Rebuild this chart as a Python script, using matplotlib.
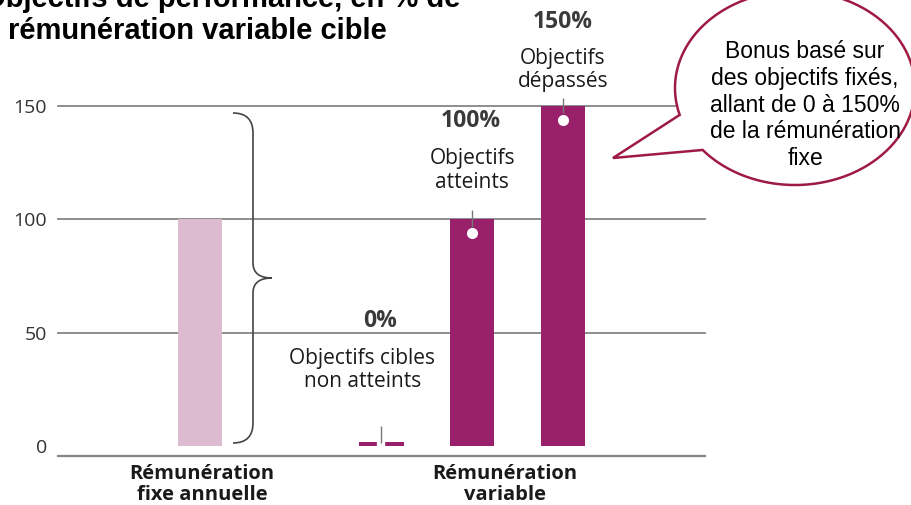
import numpy as np
import matplotlib
matplotlib.use("Agg")
import matplotlib.pyplot as plt
from matplotlib.path import Path
from matplotlib.patches import PathPatch, Polygon

# data
bar_pos = [0, 2, 3, 4]
bar_values = [100, 0, 100, 150]
bar_colors = ["#dcbad0", "#99206a", "#99206a", "#99206a"]
pct_labels = ["0%", "100%", "150%"]
pct_texts = ["Objectifs cibles\nnon atteints", "Objectifs\natteints", "Objectifs\ndépassés"]
yticks = [0, 50, 100, 150]
cat_labels = ["Rémunération\nfixe annuelle", "Rémunération\nvariable"]
cat_pos = [0.02, 3.36]
title_lines = ["Objectifs de performance, en % de", "rémunération variable cible"]
bubble_text = "Bonus basé sur\ndes objectifs fixés,\nallant de 0 à 150%\nde la rémunération\nfixe"

W, H = 911, 505
fig = plt.figure(figsize=(W / 100, H / 100), dpi=100)

# main axes: gridlines from x=58px to 705px, y=150 at 106px, y=-4.4 at 456px
ax = fig.add_axes([58 / W, (H - 456) / H, (705 - 58) / W, (456 - 106) / H])
ax.set_xlim(-1.566, 5.567)
ax.set_ylim(-4.4, 150)
for s in ax.spines.values():
    s.set_visible(False)
ax.set_xticks([])
ax.set_yticks(yticks)
ax.set_yticklabels([str(t) for t in yticks], fontfamily="Open Sans", fontsize=14, color="#333333")
ax.tick_params(axis="y", length=0, pad=8)
for t in yticks[1:]:
    ax.axhline(t, color="#858585", lw=1.3, zorder=1, clip_on=False)
ax.axhline(-4.4, color="#858585", lw=1.6, zorder=1, clip_on=False)

# bars (the 0% bar is shown as a thin stub split in two)
stub = 1.8
heights = [v if v > 0 else stub for v in bar_values]
ax.bar(bar_pos, heights, width=0.49, color=bar_colors, zorder=2)
zero_x = bar_pos[bar_values.index(0)]
ax.vlines(zero_x, 0, stub + 0.2, color="white", lw=6, zorder=3)

# leader lines, white dots and labels for the variable bars
var_pos = bar_pos[1:]
var_vals = bar_values[1:]
pct_y = [55, 143.6, 187]
txt_y = [33.5, 121.6, 165.9]
txt_x = [1.79, 3.0, 4.0]
pct_x = [1.98, 2.98, 4.0]
lead = [(1.3, 9), (96.5, 104), (146.7, 153.7)]
for i, (x, v) in enumerate(zip(var_pos, var_vals)):
    ax.vlines(x, lead[i][0], lead[i][1], color="#777777", lw=1, zorder=4, clip_on=False)
    if v > 0:
        ax.plot(x, v - 6, "o", color="white", ms=7, zorder=5)
    ax.text(pct_x[i], pct_y[i], pct_labels[i], ha="center", va="center",
            fontfamily="Open Sans", fontweight="bold", fontsize=16.5, color="#3a3a3a", clip_on=False)
    ax.text(txt_x[i], txt_y[i], pct_texts[i], ha="center", va="center", linespacing=1.15,
            fontfamily="Open Sans", fontsize=15, color="#1a1a1a", clip_on=False)

for x, lab in zip(cat_pos, cat_labels):
    ax.text(x, -17, lab, ha="center", va="center", linespacing=1.1,
            fontfamily="Open Sans", fontweight="bold", fontsize=14.5, color="#1a1a1a", clip_on=False)

# overlay in pixel coordinates for title, brace and bubble
ov = fig.add_axes([0, 0, 1, 1])
ov.set_xlim(0, W)
ov.set_ylim(H, 0)
ov.axis("off")
ov.patch.set_alpha(0)

ov.text(460, -1, title_lines[0], ha="right", va="center", fontfamily="Liberation Sans",
        fontweight="bold", fontsize=21, color="black")
ov.text(8, 31, title_lines[1], ha="left", va="center", fontfamily="Liberation Sans",
        fontweight="bold", fontsize=21, color="black")

brace = Path(
    [(233, 113), (253, 113), (253, 133), (253, 263), (253, 278), (272, 278),
     (253, 278), (253, 293), (253, 423), (253, 443), (233, 443)],
    [Path.MOVETO, Path.CURVE3, Path.CURVE3, Path.LINETO, Path.CURVE3, Path.CURVE3,
     Path.CURVE3, Path.CURVE3, Path.LINETO, Path.CURVE3, Path.CURVE3])
ov.add_patch(PathPatch(brace, fill=False, edgecolor="#444444", lw=1.2))

cx, cy, a, b = 795, 88, 120, 97
t = np.radians(np.linspace(163.9, 500.3, 300))
pts = np.column_stack([cx + a * np.cos(t), cy + b * np.sin(t)])
pts = np.vstack([pts, [613, 158]])
ov.add_patch(Polygon(pts, closed=True, facecolor="white", edgecolor="#9e1a45", lw=1.8, zorder=5))
ov.text(805, 105, bubble_text, ha="center", va="center", linespacing=1.22,
        fontfamily="Liberation Sans", fontsize=16.5, color="black", zorder=6)

fig.savefig("out.png", dpi=100)
